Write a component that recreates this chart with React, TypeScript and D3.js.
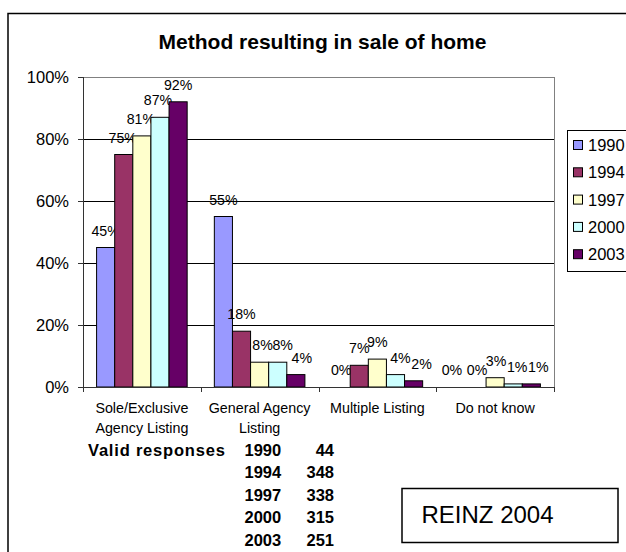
import React from 'react';
import * as d3 from 'd3';

const title = 'Method resulting in sale of home';
const categories = ['Sole/Exclusive Agency Listing', 'General Agency Listing', 'Multiple Listing', 'Do not know'];
const categoryLines = [['Sole/Exclusive', 'Agency Listing'], ['General Agency', 'Listing'], ['Multiple Listing'], ['Do not know']];
const years = ['1990', '1994', '1997', '2000', '2003'];
const values1990 = [45, 55, 0, 0];
const values1994 = [75, 18, 7, 0];
const values1997 = [81, 8, 9, 3];
const values2000 = [87, 8, 4, 1];
const values2003 = [92, 4, 2, 1];
const seriesValues = [values1990, values1994, values1997, values2000, values2003];
const colors = ['#9999FF', '#993366', '#FFFFCC', '#CCFFFF', '#660066'];
const yTicks = [0, 0.2, 0.4, 0.6, 0.8, 1.0];
const responseLabel = 'Valid responses';
const responseYears = ['1990', '1994', '1997', '2000', '2003'];
const responseCounts = [44, 348, 338, 315, 251];
const sourceNote = 'REINZ 2004';

// layout: small horizontal nudges of data labels (series x category), as placed in the reference
const labelNudge = [
  [0, 0, 0, -7],
  [-1, 0, 0, 0],
  [-1, 3, 0, 1],
  [-2, 5, 5, 4],
  [0, 6, 8, 7],
];

const FONT = '"Liberation Sans", Arial, sans-serif';

export default function App() {
  const left = 83, right = 554, top = 77, bottom = 387;
  const x0 = d3.scaleBand<string>().domain(categories).range([left, right]).paddingInner(0).paddingOuter(0);
  const x1 = d3.scaleBand<string>().domain(years).range([0, x0.bandwidth()]).paddingInner(0).paddingOuter(0.75);
  const y = d3.scaleLinear().domain([0, 1]).range([bottom, top]);
  const pct = d3.format('.0%');

  return (
    <svg width={626} height={552} style={{ position: 'absolute', left: 0, top: 0, background: '#fff' }} fontFamily={FONT}>
      <rect x={0} y={0} width={626} height={552} fill="#fff" />
      <rect x={8} y={13.5} width={700} height={600} fill="#fff" stroke="#000" strokeWidth={1.5} />
      <text x={322.5} y={49} textAnchor="middle" fontSize={21} fontWeight="bold" fill="#000">{title}</text>

      {/* gridlines */}
      {yTicks.map((t) => (
        <line key={'g' + t} x1={left} x2={right} y1={Math.round(y(t)) + 0.5} y2={Math.round(y(t)) + 0.5}
          stroke={t === 1 ? '#808080' : '#000'} strokeWidth={1} />
      ))}
      <line x1={right + 0.5} x2={right + 0.5} y1={top} y2={bottom} stroke="#808080" strokeWidth={1} />

      {/* bars */}
      {categories.map((c, ci) => (
        <g key={c}>
          {years.map((yr, si) => {
            const v = seriesValues[si][ci] / 100;
            const bx = (x0(c) as number) + (x1(yr) as number);
            const bw = x1.bandwidth();
            return (
              <g key={yr}>
                {v > 0 && (
                  <rect x={bx} y={y(v)} width={bw} height={bottom - y(v)} fill={colors[si]} stroke="#000" strokeWidth={1} />
                )}
                <text x={bx + bw / 2 + labelNudge[si][ci]} y={y(v) - 12} textAnchor="middle" fontSize={14.2} fill="#000">{pct(v)}</text>
              </g>
            );
          })}
        </g>
      ))}

      {/* axes */}
      <line x1={left + 0.5} x2={left + 0.5} y1={top} y2={bottom} stroke="#333" strokeWidth={1} />
      <line x1={left} x2={right} y1={bottom + 0.5} y2={bottom + 0.5} stroke="#333" strokeWidth={1} />
      {yTicks.map((t) => (
        <g key={'t' + t}>
          <line x1={left - 5} x2={left} y1={Math.round(y(t)) + 0.5} y2={Math.round(y(t)) + 0.5} stroke="#333" />
          <text x={69} y={y(t)} dy="0.36em" textAnchor="end" fontSize={16.5} fill="#000">{pct(t)}</text>
        </g>
      ))}
      {[...categories.map((c) => x0(c) as number), right].map((xx, i) => (
        <line key={'xt' + i} x1={Math.round(xx) + 0.5} x2={Math.round(xx) + 0.5} y1={bottom} y2={bottom + 5} stroke="#333" />
      ))}
      {categories.map((c, ci) => (
        <text key={'cl' + c} textAnchor="middle" fontSize={14.3} fill="#000">
          {categoryLines[ci].map((ln, li) => (
            <tspan key={li} x={(x0(c) as number) + x0.bandwidth() / 2} y={413 + li * 20}>{ln}</tspan>
          ))}
        </text>
      ))}

      {/* legend */}
      <rect x={567.5} y={130.5} width={80} height={141} fill="#fff" stroke="#000" strokeWidth={1} />
      {years.map((yr, i) => (
        <g key={'lg' + yr}>
          <rect x={573.5} y={140.5 + i * 27.3} width={9} height={9} fill={colors[i]} stroke="#000" strokeWidth={1} />
          <text x={588} y={145 + i * 27.3} dy="0.36em" fontSize={16.5} fill="#000">{yr}</text>
        </g>
      ))}

      {/* valid responses table */}
      <text x={88} y={455.5} fontSize={16.5} fontWeight="bold" letterSpacing={0.8} fill="#000">{responseLabel}</text>
      {responseYears.map((yr, i) => (
        <g key={'r' + yr}>
          <text x={244.5} y={455.5 + i * 22.6} fontSize={16.5} fontWeight="bold" fill="#000">{yr}</text>
          <text x={334} y={455.5 + i * 22.6} textAnchor="end" fontSize={16.5} fontWeight="bold" fill="#000">{responseCounts[i]}</text>
        </g>
      ))}

      {/* source box */}
      <rect x={402} y={488.5} width={216} height={54} fill="#fff" stroke="#000" strokeWidth={1.5} />
      <text x={421.5} y={522.7} fontSize={24} fill="#000">{sourceNote}</text>
    </svg>
  );
}
